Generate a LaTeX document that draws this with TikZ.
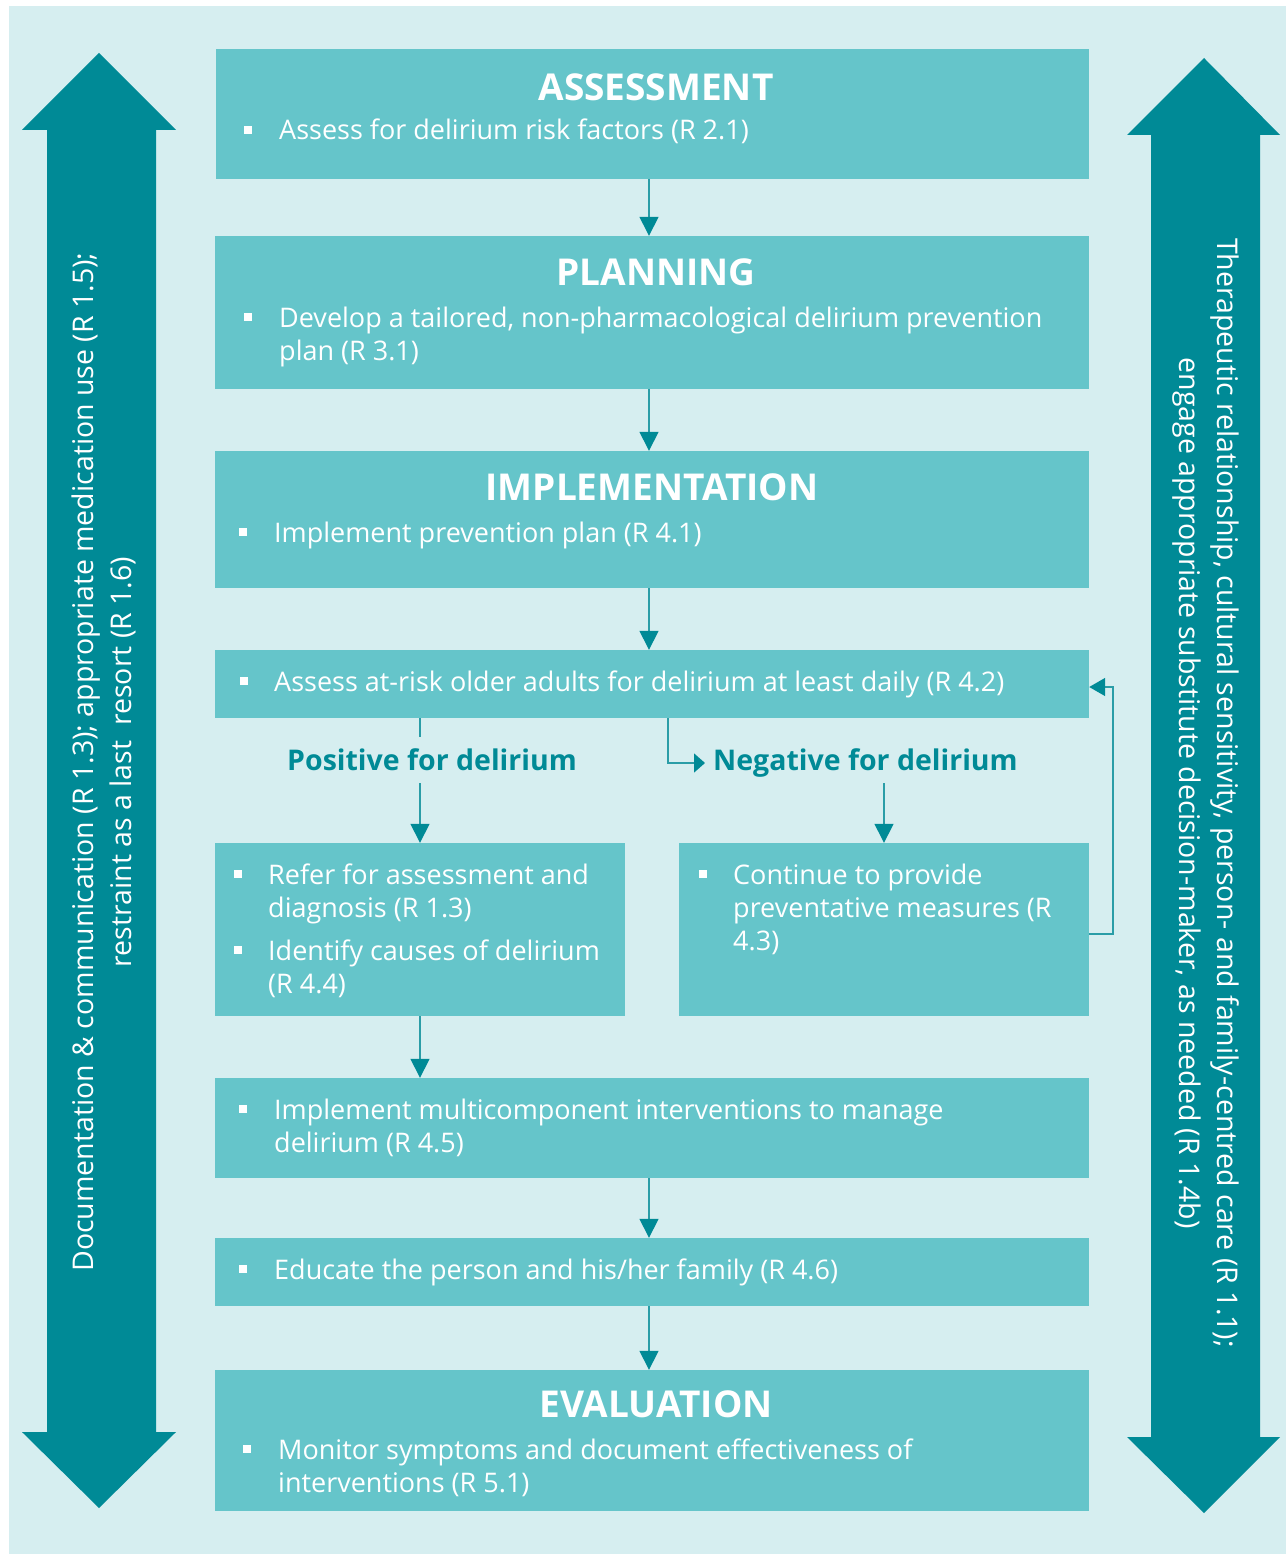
\documentclass[tikz,border=0pt]{standalone}
\usepackage{fontspec}
\setmainfont{Open Sans}
\usetikzlibrary{arrows.meta}
\definecolor{bgc}{HTML}{D6EEF0}
\definecolor{boxc}{HTML}{65C5CA}
\definecolor{darkt}{HTML}{008A96}
\definecolor{linec}{HTML}{2A9DA7}
\newcommand\mybul[2]{\fill[white] (#1,#2-14) rectangle ++(8,8);}
\begin{document}
\begin{tikzpicture}[x=1pt,y=-1pt,
  box/.style={fill=boxc, inner sep=0pt, draw=none},
  ttl/.style={font=\fontsize{37}{42}\selectfont\bfseries, text=white, inner sep=0pt},
  body/.style={font=\fontsize{27}{33}\selectfont, text=white, inner sep=0pt, anchor=base west, align=left},
  lab/.style={font=\fontsize{28.5}{32}\selectfont\bfseries, text=darkt, inner xsep=8pt, inner ysep=0pt, minimum height=46pt},
  side/.style={font=\fontsize{28.5}{38}\selectfont, text=white, align=center, inner sep=0pt},
  ln/.style={draw=linec, line width=1.5pt},
  arr/.style={ln, -{Triangle[width=19pt,length=19pt,color=darkt]}},
  arrsm/.style={ln, -{Triangle[width=19pt,length=11pt,color=darkt]}},
  arrfb/.style={ln, -{Triangle[width=18pt,length=16pt,color=darkt]}}]
\useasboundingbox (0,0) rectangle (1286,1554);
\fill[white] (0,0) rectangle (1286,1554);
\fill[bgc] (9,6) rectangle (1286,1554);
% side arrows
\fill[darkt] (99,53) -- (176,130) -- (156,130) -- (156,1432) -- (176,1432) -- (99,1508) -- (22,1432) -- (47,1432) -- (47,130) -- (22,130) -- cycle;
\fill[darkt] (1204,58) -- (1280,135) -- (1260,135) -- (1260,1437) -- (1280,1437) -- (1204,1513) -- (1127,1437) -- (1151,1437) -- (1151,135) -- (1127,135) -- cycle;
\node[side, rotate=90] (lefttxt) at (104,762) {Documentation \& communication (R 1.3); appropriate medication use (R 1.5);\\restraint as a last~ resort (R 1.6)};
\node[side, rotate=-90] (righttxt) at (1206,793) {Therapeutic relationship, cultural sensitivity, person- and family-centred care (R 1.1);\\engage appropriate substitute decision-maker, as needed (R 1.4b)};
% boxes
\node[box, minimum width=873pt, minimum height=130pt] (assess) at (652.5,114) {};
\node[box, minimum width=874pt, minimum height=153pt] (plan) at (652,312.5) {};
\node[box, minimum width=874pt, minimum height=137pt] (impl) at (652,519.5) {};
\node[box, minimum width=874pt, minimum height=68pt] (atrisk) at (652,684) {};
\node[box, minimum width=410pt, minimum height=173pt] (refer) at (420,929.5) {};
\node[box, minimum width=410pt, minimum height=173pt] (cont) at (884,929.5) {};
\node[box, minimum width=874pt, minimum height=100pt] (multi) at (652,1128) {};
\node[box, minimum width=874pt, minimum height=68pt] (educ) at (652,1272) {};
\node[box, minimum width=874pt, minimum height=141pt] (eval) at (652,1440.5) {};
% titles
\node[ttl] (assessT) at (656,87) {ASSESSMENT};
\node[ttl] (planT) at (656,272) {PLANNING};
\node[ttl] (implT) at (652,487) {IMPLEMENTATION};
\node[ttl] (evalT) at (656,1404) {EVALUATION};
% bullets and body text (anchor is the baseline of the last line)
\mybul{244}{140}
\node[body] (assessB) at (279,140) {Assess for delirium risk factors (R 2.1)};
\mybul{244}{327}
\node[body] (planB) at (279,360) {Develop a tailored, non-pharmacological delirium prevention\\plan (R 3.1)};
\mybul{239}{542}
\node[body] (implB) at (274,542) {Implement prevention plan (R 4.1)};
\mybul{240}{691}
\node[body] (atriskB) at (274,691) {Assess at-risk older adults for delirium at least daily (R 4.2)};
\mybul{234}{884}
\node[body] (referB1) at (268,917) {Refer for assessment and\\diagnosis (R 1.3)};
\mybul{234}{960}
\node[body] (referB2) at (268,993) {Identify causes of delirium\\(R 4.4)};
\mybul{699}{884}
\node[body] (contB) at (733,950) {Continue to provide\\preventative measures (R\\4.3)};
\mybul{239}{1119}
\node[body] (multiB) at (274,1152) {Implement multicomponent interventions to manage\\delirium (R 4.5)};
\mybul{239}{1279}
\node[body] (educB) at (274,1279) {Educate the person and his/her family (R 4.6)};
\mybul{243}{1459}
\node[body] (evalB) at (278,1492) {Monitor symptoms and document effectiveness of\\interventions (R 5.1)};
% labels
\node[lab] (pos) at (432,760) {Positive for delirium};
\node[lab, anchor=west, minimum height=40pt] (neg) at (705,763) {Negative for delirium};
% connectors
\coordinate (mx) at (649,0);
\coordinate (px) at (420,0);
\coordinate (nx) at (668,0);
\coordinate (nx2) at (884,0);
\draw[arr] (assess.south -| mx) -- (plan.north -| mx);
\draw[arr] (plan.south -| mx) -- (impl.north -| mx);
\draw[arr] (impl.south -| mx) -- (atrisk.north -| mx);
\draw[ln] (atrisk.south -| px) -- (pos.north -| px);
\draw[arr] (pos.south -| px) -- (refer.north -| px);
\draw[arrsm] (atrisk.south -| nx) |- (neg.west);
\draw[arr] (neg.south -| nx2) -- (cont.north -| nx2);
\draw[arrfb] ([yshift=-4.5pt]cont.east) -- ++(24,0) |- ([yshift=-3pt]atrisk.east);
\draw[arr] (refer.south) -- (multi.north -| refer.south);
\draw[arr] (multi.south -| mx) -- (educ.north -| mx);
\draw[arr] (educ.south -| mx) -- (eval.north -| mx);
\end{tikzpicture}
\end{document}
